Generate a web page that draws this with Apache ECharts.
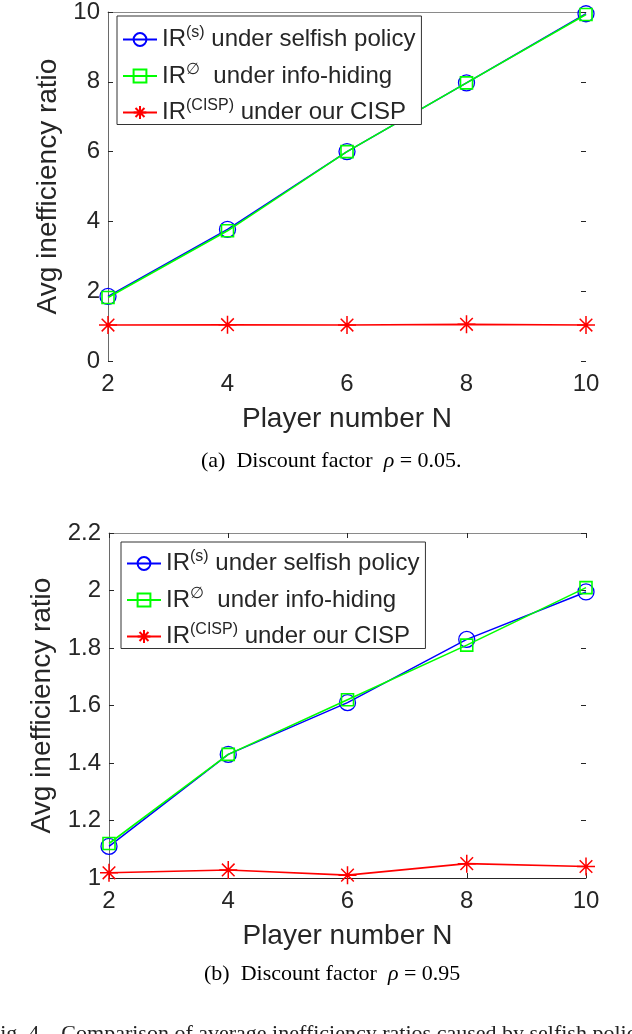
<!DOCTYPE html>
<html>
<head>
<meta charset="utf-8">
<script src="https://cdn.jsdelivr.net/npm/echarts@6/dist/echarts.min.js"></script>
<style>
html, body { margin: 0; padding: 0; background: #fff; }
#chart { width: 632px; height: 1034px; }
</style>
</head>
<body>
<div id="chart"></div>
<script>
// data
var playerN = [2, 4, 6, 8, 10];

// (a) rho = 0.05
var selfishA = [1.85, 3.77, 6.0, 7.97, 9.95];
var hidingA = [1.82, 3.73, 6.0, 7.97, 9.93];
var cispA = [1.03, 1.04, 1.03, 1.05, 1.03];
var yTicksA = {min: 0, max: 10, interval: 2};

// (b) rho = 0.95
var selfishB = [1.11, 1.43, 1.61, 1.83, 1.995];
var hidingB = [1.12, 1.43, 1.62, 1.81, 2.01];
var cispB = [1.018, 1.028, 1.01, 1.05, 1.04];
var yTicksB = {min: 1, max: 2.2, interval: 0.2};

var names = ['IR(s) under selfish policy', 'IR∅ under info-hiding', 'IR(CISP) under our CISP'];
var legendRich = {};
legendRich[names[0]] = '{n|IR}{sup|(s)}{n| under selfish policy}';
legendRich[names[1]] = '{n|IR}{sup|∅}{n|  under info-hiding}';
legendRich[names[2]] = '{n|IR}{sup|(CISP)}{n| under our CISP}';

var FONT = 'Liberation Sans, Arial, sans-serif';
var SERIF = 'Liberation Serif, Times New Roman, serif';
var AX = '#262626';
var STAR = 'path://M5,0L5,10M0,5L10,5M1.5,1.5L8.5,8.5M8.5,1.5L1.5,8.5';

function pairs(vals) {
    return playerN.map(function (n, i) { return [n, vals[i]]; });
}

var myChart = echarts.init(document.getElementById('chart'));

var grids = [
    {left: 108, top: 10, width: 478, height: 351},
    {left: 109, top: 533, width: 477, height: 345}
];

function xAxes(g, showBottom) {
    return [{
        type: 'value', gridIndex: g, min: 2, max: 10, interval: 2,
        name: 'Player number N', nameLocation: 'middle', nameGap: 44,
        nameTextStyle: {fontFamily: FONT, fontSize: 28, color: AX},
        axisLine: {show: showBottom, onZero: false, lineStyle: {color: AX, width: 1}},
        axisTick: {show: showBottom, inside: true, length: 5, lineStyle: {color: AX}},
        axisLabel: {fontFamily: FONT, fontSize: 24, color: AX, margin: 11},
        splitLine: {show: false}
    }, {
        type: 'value', gridIndex: g, min: 2, max: 10, interval: 2, position: 'top',
        axisLine: {show: true, onZero: false, lineStyle: {color: '#8a8a8a', width: 1}},
        axisTick: {show: showBottom, inside: true, length: 5, lineStyle: {color: AX}},
        axisLabel: {show: false},
        splitLine: {show: false}
    }];
}

function yAxes(g, t) {
    return [{
        type: 'value', gridIndex: g, min: t.min, max: t.max, interval: t.interval,
        name: 'Avg inefficiency ratio', nameLocation: 'middle', nameGap: 42,
        nameTextStyle: {fontFamily: FONT, fontSize: 28, color: AX},
        axisLine: {show: true, onZero: false, lineStyle: {color: '#6a6a6a', width: 1}},
        axisTick: {show: true, inside: true, length: 5, lineStyle: {color: AX}},
        axisLabel: {fontFamily: FONT, fontSize: 24, color: AX, margin: 8},
        splitLine: {show: false}
    }, {
        type: 'value', gridIndex: g, min: t.min, max: t.max, interval: t.interval, position: 'right',
        axisLine: {show: false},
        axisTick: {show: true, inside: true, length: 5, lineStyle: {color: AX}},
        axisLabel: {show: false},
        splitLine: {show: false}
    }];
}

function seriesFor(g, s, h, c) {
    var xi = g * 2, yi = g * 2;
    return [{
        name: names[0], type: 'line', xAxisIndex: xi, yAxisIndex: yi, data: pairs(s),
        symbol: 'circle', symbolSize: 16,
        lineStyle: {color: '#0000ff', width: 1.5},
        itemStyle: {color: 'rgba(0,0,0,0)', borderColor: '#0000ff', borderWidth: 1.3},
        z: 2
    }, {
        name: names[1], type: 'line', xAxisIndex: xi, yAxisIndex: yi, data: pairs(h),
        symbol: 'rect', symbolSize: 12,
        lineStyle: {color: '#00ff00', width: 1.6},
        itemStyle: {color: 'rgba(0,0,0,0)', borderColor: '#00ff00', borderWidth: 1.6},
        z: 3
    }, {
        name: names[2], type: 'line', xAxisIndex: xi, yAxisIndex: yi, data: pairs(c),
        symbol: STAR, symbolSize: 18,
        lineStyle: {color: '#ff0000', width: 1.6},
        itemStyle: {color: 'rgba(0,0,0,0)', borderColor: '#ff0000', borderWidth: 1.5},
        z: 4
    }];
}

function legendAt(left, top, padTop) {
    return {
        orient: 'vertical', left: left, top: top,
        data: names,
        itemWidth: 34, itemHeight: 16, itemGap: 10,
        padding: [padTop, 6, 0, 5],
        borderColor: '#333', borderWidth: 1,
        backgroundColor: '#fff',
        formatter: function (name) { return legendRich[name]; },
        textStyle: {
            color: AX,
            rich: {
                n: {fontFamily: FONT, fontSize: 24, color: AX, lineHeight: 27},
                sup: {fontFamily: FONT, fontSize: 16, color: AX, padding: [0, 0, 13, 0]}
            }
        }
    };
}

var captionRich = {
    t: {fontFamily: SERIF, fontSize: 22, color: '#222'},
    i: {fontFamily: SERIF, fontSize: 22, fontStyle: 'italic', color: '#222'}
};

var option = {
    animation: false,
    backgroundColor: '#fff',
    grid: grids,
    xAxis: xAxes(0, false).concat(xAxes(1, true)),
    yAxis: yAxes(0, yTicksA).concat(yAxes(1, yTicksB)),
    legend: [legendAt(117, 16, 9), legendAt(121, 542, 7)],
    series: seriesFor(0, selfishA, hidingA, cispA).concat(seriesFor(1, selfishB, hidingB, cispB)),
    graphic: [
        {type: 'text', x: 201, y: 450,
         style: {text: '{t|(a)  Discount factor  }{i|ρ}{t| = 0.05.}', rich: captionRich}},
        {type: 'text', x: 204, y: 963,
         style: {text: '{t|(b)  Discount factor  }{i|ρ}{t| = 0.95}', rich: captionRich}},
        {type: 'text', x: -12, y: 1023,
         style: {text: 'Fig. 4.   Comparison of average inefficiency ratios caused by selfish policy', font: '22px ' + SERIF, fill: '#222'}}
    ]
};

myChart.setOption(option);

window.onresize = function () {
    myChart.resize();
};
</script>
</body>
</html>
